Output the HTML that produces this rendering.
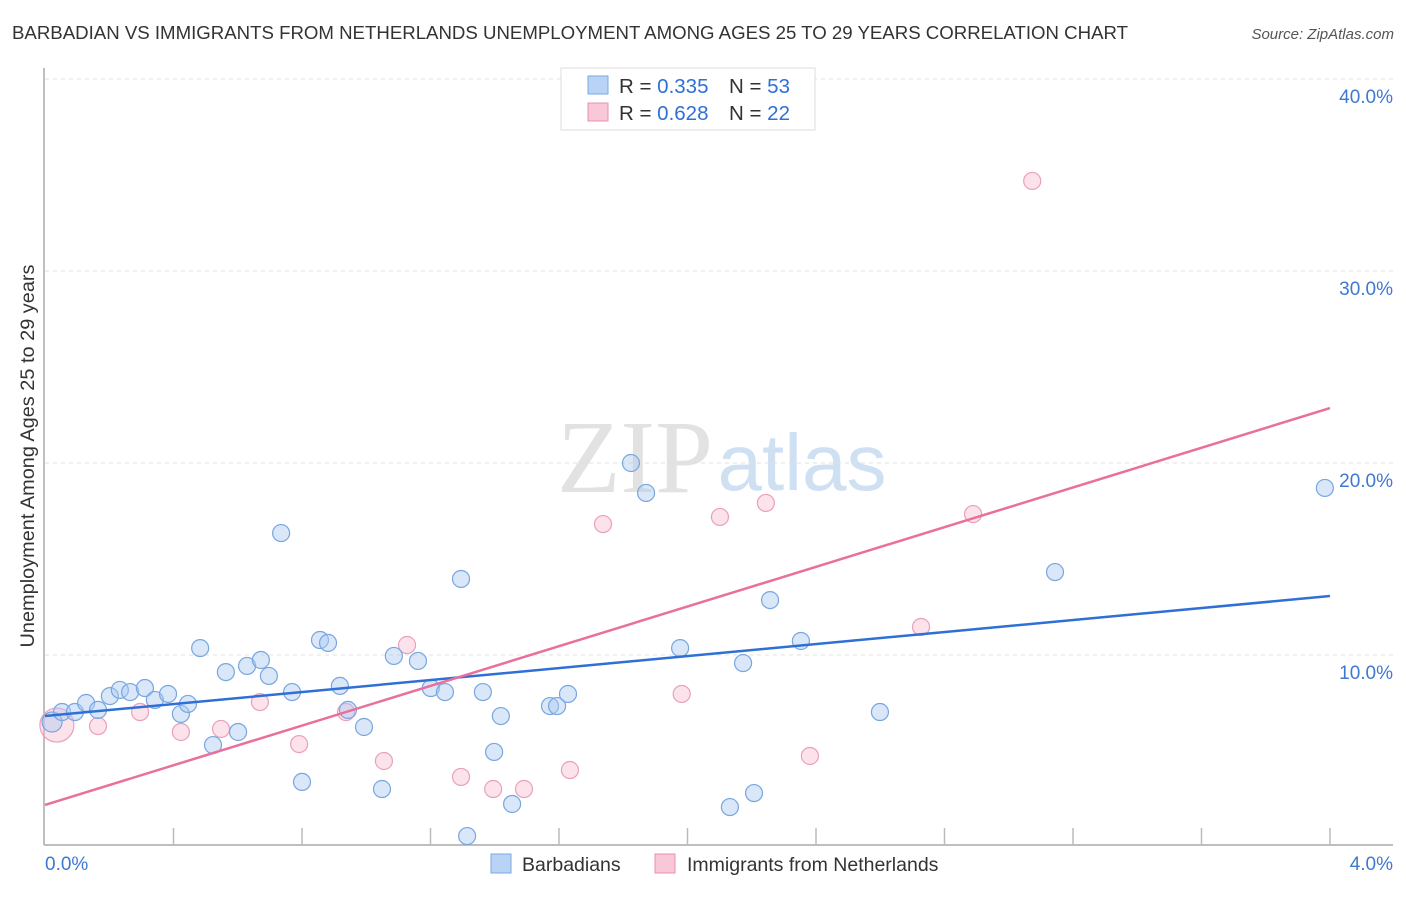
<!DOCTYPE html>
<html><head><meta charset="utf-8"><style>
body{margin:0;background:#fff;font-family:"Liberation Sans",sans-serif;}
svg text{font-family:"Liberation Sans",sans-serif;}
</style></head><body>
<svg id="chart" width="1406" height="892" xmlns="http://www.w3.org/2000/svg">
<text x="12" y="39" font-size="18" fill="#333" textLength="1116" lengthAdjust="spacingAndGlyphs">BARBADIAN VS IMMIGRANTS FROM NETHERLANDS UNEMPLOYMENT AMONG AGES 25 TO 29 YEARS CORRELATION CHART</text>
<text x="1394" y="39" font-size="15" fill="#555" font-style="italic" text-anchor="end">Source: ZipAtlas.com</text>
<g>
<text x="635" y="492" font-size="104" fill="#e2e2e2" text-anchor="middle" style="font-family:'Liberation Serif',serif">ZIP</text>
<text x="802" y="490" font-size="80" fill="#cfe0f3" text-anchor="middle">atlas</text>
</g>
<g id="grid"></g>
<g id="axes"></g>
<g id="marks"></g>
<text transform="translate(34,456) rotate(-90)" font-size="19.5" fill="#333" text-anchor="middle" textLength="383" lengthAdjust="spacingAndGlyphs">Unemployment Among Ages 25 to 29 years</text>
<g>
<rect x="561" y="68" width="254" height="62" fill="#fff" stroke="#ddd"/>
<rect x="588" y="76" width="20" height="18" fill="#b8d3f5" stroke="#7aaae0"/>
<rect x="588" y="103" width="20" height="18" fill="#f9c8d7" stroke="#e890b0"/>
<text x="619" y="93" font-size="20.5" fill="#333">R = <tspan fill="#2f6fd6">0.335</tspan></text>
<text x="729" y="93" font-size="20.5" fill="#333">N = <tspan fill="#2f6fd6">53</tspan></text>
<text x="619" y="120" font-size="20.5" fill="#333">R = <tspan fill="#2f6fd6">0.628</tspan></text>
<text x="729" y="120" font-size="20.5" fill="#333">N = <tspan fill="#2f6fd6">22</tspan></text>
</g>
<g>
<rect x="491" y="854" width="20" height="19" fill="#b8d3f5" stroke="#7aaae0"/>
<text x="522" y="871" font-size="19.5" fill="#333">Barbadians</text>
<rect x="655" y="854" width="20" height="19" fill="#f9c8d7" stroke="#e890b0"/>
<text x="687" y="871" font-size="19.5" fill="#333">Immigrants from Netherlands</text>
</g>
</svg>
<script>
const blueX=[0.022,0.053,0.093,0.128,0.165,0.202,0.233,0.265,0.311,0.342,0.383,0.423,0.445,0.483,0.523,0.563,0.601,0.629,0.672,0.697,0.735,0.769,0.800,0.856,0.881,0.918,0.943,0.993,1.049,1.086,1.161,1.201,1.245,1.295,1.363,1.398,1.419,1.454,1.572,1.594,1.628,1.824,1.871,1.977,2.132,2.173,2.207,2.257,2.353,2.599,3.144,3.984,1.314];
const blueY=[6.51,7.03,7.03,7.50,7.14,7.86,8.18,8.07,8.28,7.66,7.97,6.93,7.45,10.36,5.31,9.11,5.99,9.43,9.74,8.91,16.35,8.07,3.39,10.78,10.63,8.39,7.14,6.25,3.02,9.95,9.69,8.28,8.07,13.96,8.07,4.95,6.82,2.24,7.34,7.34,7.97,20.0,18.44,10.36,2.08,9.58,2.81,12.86,10.73,7.03,14.32,18.70,0.57];
const pinkX=[0.037,0.165,0.296,0.423,0.548,0.669,0.791,0.937,1.055,1.127,1.295,1.395,1.491,1.634,1.737,1.982,2.101,2.244,2.381,2.727,2.889,3.073];
const pinkY=[6.35,6.30,7.03,5.99,6.15,7.55,5.36,7.03,4.48,10.52,3.65,3.02,3.02,4.01,16.82,7.97,17.19,17.92,4.74,11.46,17.34,34.69];
const blueTrend=[6.82,13.07];
const pinkTrend=[2.19,22.86];
const yTicks=[10,20,30,40];
const yTickLabels=["10.0%","20.0%","30.0%","40.0%"];
const xTickVals=[0,0.4,0.8,1.2,1.6,2.0,2.4,2.8,3.2,3.6,4.0];
const xEndLabels=["0.0%","4.0%"];

const NS="http://www.w3.org/2000/svg";
const X0=45,X1=1330,YB=847,PPY=19.2;
function sx(v){return X0+(v/4)*(X1-X0);}
function sy(v){return YB-v*PPY;}
function mk(tag,attrs,parent){const e=document.createElementNS(NS,tag);for(const k in attrs)e.setAttribute(k,attrs[k]);parent.appendChild(e);return e;}
const grid=document.getElementById('grid'),axes=document.getElementById('axes'),marks=document.getElementById('marks');
yTicks.forEach((t,i)=>{
  const l=mk('line',{x1:45,x2:1393,y1:sy(t),y2:sy(t),stroke:'#e0e0e0','stroke-dasharray':'4,4'},grid);
  
  
  const tx=mk('text',{x:1393,y:sy(t)+24,'font-size':19,fill:'#3f78d0','text-anchor':'end'},axes);
  tx.textContent=yTickLabels[i];
  
  
});
let a=mk('line',{x1:44,x2:44,y1:68,y2:845,stroke:'#aaa','stroke-width':1.5},axes);


a=mk('line',{x1:44,x2:1393,y1:845,y2:845,stroke:'#aaa','stroke-width':1.5},axes);


xTickVals.forEach((v,i)=>{ if(i===0)return;
  const t=mk('line',{x1:sx(v),x2:sx(v),y1:828,y2:845,stroke:'#bbb','stroke-width':1.5},axes);
  
  
});
let xl=mk('text',{x:45,y:870,'font-size':19,fill:'#3f78d0'},axes);xl.textContent=xEndLabels[0];


xl=mk('text',{x:1393,y:870,'font-size':19,fill:'#3f78d0','text-anchor':'end'},axes);xl.textContent=xEndLabels[1];



pinkX.forEach((x,i)=>{
  const c=mk('circle',{cx:sx(x),cy:sy(pinkY[i]),r:i===0?17:8.5,fill:'rgba(247,185,205,0.4)',stroke:'#eaa0bb','stroke-width':1.2},marks);
  
  
});
blueX.forEach((x,i)=>{
  const c=mk('circle',{cx:sx(x),cy:sy(blueY[i]),r:i===0?10:8.5,fill:'rgba(170,202,242,0.45)',stroke:'#78a6e0','stroke-width':1.2},marks);
  
  
});
let tl=mk('line',{x1:sx(0),y1:sy(blueTrend[0]),x2:sx(4),y2:sy(blueTrend[1]),stroke:'#2f6fd6','stroke-width':2.5},marks);


tl=mk('line',{x1:sx(0),y1:sy(pinkTrend[0]),x2:sx(4),y2:sy(pinkTrend[1]),stroke:'#e8709a','stroke-width':2.5},marks);


</script>
</body></html>
